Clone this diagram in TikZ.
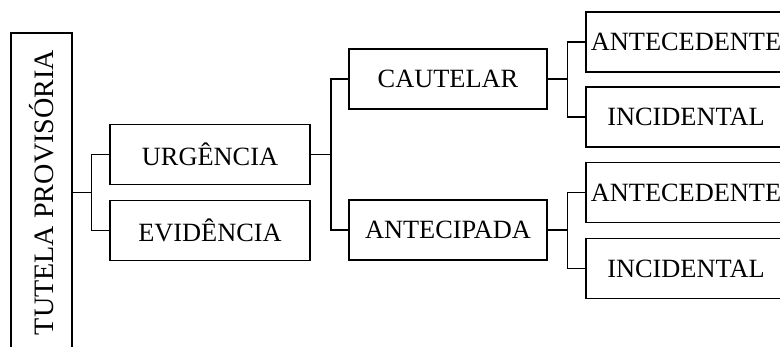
\documentclass[tikz,border=0pt]{standalone}
\usepackage{fontspec}
\setmainfont{Liberation Serif}
\usepackage{tikz}
\usetikzlibrary{positioning}

\begin{document}
\begin{tikzpicture}[
  font=\fontsize{15}{18}\selectfont,
  box/.style={rectangle, draw, line width=1.1pt, minimum width=4.0cm, minimum height=1.2cm, inner sep=0pt, text centered},
  link/.style={line width=0.6pt},
]

\useasboundingbox (0,0) rectangle (15.6,-6.94);
\clip (0,0) rectangle (15.6,-6.94);

% ---- Root (left side) ----
\node[box, minimum width=6.38cm, minimum height=1.22cm, rotate=90,
  font=\fontsize{16}{19}\selectfont] (tutela) at (0.83,-3.85) {TUTELA PROVISÓRIA};

% ---- First level ----
\node[box] (urgencia) at (4.2,-3.09) {URGÊNCIA};
\node[box] (evidencia) at (4.2,-4.61) {EVIDÊNCIA};

% ---- Second level ----
\node[box, minimum width=3.96cm] (cautelar) at (8.96,-1.58) {CAUTELAR};
\node[box, minimum width=3.96cm] (antecipada) at (8.96,-4.6) {ANTECIPADA};

% ---- Third level (right side) ----
\node[box] (antecedA) at (13.72,-0.84) {ANTECEDENTE};
\node[box] (incidA) at (13.72,-2.34) {INCIDENTAL};
\node[box] (antecedB) at (13.72,-3.85) {ANTECEDENTE};
\node[box] (incidB) at (13.72,-5.37) {INCIDENTAL};

% ---- Connectors ----
\draw[link] (tutela.south) -- ++(0.38,0) |- (urgencia.west);
\draw[link] (tutela.south) ++(0.38,0) |- (evidencia.west);

\draw[link] (urgencia.east) -- ++(0.4,0) |- (cautelar.west);
\draw[link] (urgencia.east) ++(0.4,0) |- (antecipada.west);

\draw[link] (cautelar.east) -- ++(0.39,0) |- (antecedA.west);
\draw[link] (cautelar.east) ++(0.39,0) |- (incidA.west);
\draw[link] (antecipada.east) -- ++(0.39,0) |- (antecedB.west);
\draw[link] (antecipada.east) ++(0.39,0) |- (incidB.west);

\end{tikzpicture}
\end{document}
